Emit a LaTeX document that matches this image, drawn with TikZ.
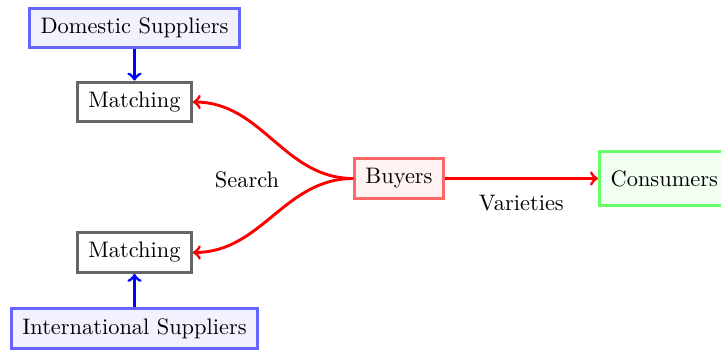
\documentclass[tikz,border=0pt]{standalone}
\usetikzlibrary{arrows}
\begin{document}
\begin{tikzpicture}[x=0.4464pt,y=-0.4464pt,
  box/.style={line width=1.3pt, inner xsep=4.8pt, inner ysep=4.4pt},
  supbox/.style={box, draw=blue!60, fill=blue!5},
  matchbox/.style={box, draw=black!60, fill=white},
  buybox/.style={box, draw=red!60, fill=red!5},
  consbox/.style={box, draw=green!60, fill=green!5, inner xsep=5pt, minimum height=0.85cm},
  supline/.style={->, blue, line width=1.3pt},
  buyline/.style={->, red, line width=1.3pt}]
\useasboundingbox (0,0) rectangle (721,351);
\node[supbox] (dom) at (134.5,28) {Domestic Suppliers};
\node[matchbox] (m1) at (134.5,102) {Matching};
\node[matchbox] (m2) at (134.5,252.5) {Matching};
\node[supbox] (int) at (134.5,328.5) {International Suppliers};
\node[buybox] (buy) at (399,178.5) {Buyers};
\node[consbox, anchor=west] (cons) at (598,178.5) {Consumers};
\node (search) at (247,180) {Search};
\draw[supline] (dom) -- (m1);
\draw[supline] (int) -- (m2);
\draw[buyline] (buy.west) to[out=180,in=0] (m1.east);
\draw[buyline] (buy.west) to[out=180,in=0] (m2.east);
\draw[buyline] (buy) -- node[below=3.5pt, text=black] (var) {Varieties} (cons);
\end{tikzpicture}
\end{document}
